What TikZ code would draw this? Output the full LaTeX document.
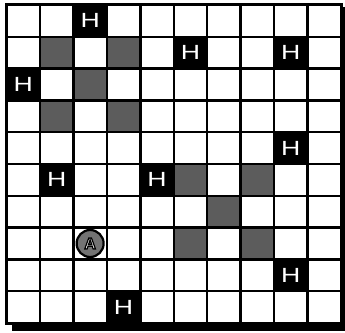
\documentclass[tikz,border=0pt]{standalone}
\usepackage{fontspec}
\setmainfont{Liberation Sans}
\begin{document}
\begin{tikzpicture}[x=1pt,y=1pt,
  gridline/.style={line width=2.4pt,black},
  shadecell/.style={fill=black!64},
  hcell/.style={fill=black},
  htext/.style={text=white,inner sep=0pt,font=\fontsize{20.5}{20.5}\selectfont},
  atext/.style={inner sep=0pt,text=white,font=\bfseries\fontsize{16}{16}\selectfont}]
\useasboundingbox (0,0) rectangle (345,332);
% drop shadow
\fill (12,1) rectangle (345,9.5);
\fill (340,1) rectangle (345,325);
\begin{scope}[shift={(6.5,327)}, x={(33.45pt,0)}, y={(0,-31.8pt)}]
  \foreach \c/\r in {1/1,3/1,2/2,1/3,3/3,5/5,7/5,6/6,5/7,7/7}
    \fill[shadecell] (\c,\r) rectangle ++(1,1);
  \foreach \c/\r in {2/0,5/1,8/1,0/2,8/4,1/5,4/5,8/8,3/9} {
    \fill[hcell] (\c,\r) rectangle ++(1,1);
    \node[htext] (h\c\r) at (\c+.5,\r+.5) {\scalebox{1.3}[1]{H}};
  }
  \foreach \i in {0,...,10} {
    \draw[gridline] (\i,0) -- (\i,10);
    \draw[gridline] (0,\i) -- (10,\i);
  }
  \draw[line width=3pt] (0,0) rectangle (10,10);
  \coordinate (ac) at (2.5,7.5);
\end{scope}
\filldraw[fill=black!55, line width=2.2pt] (ac) circle (13.5);
\node[atext] (a) at (ac) {\special{pdf:literal 0 G 1.2 w 2 Tr}A\special{pdf:literal 0 Tr}};
\end{tikzpicture}
\end{document}
